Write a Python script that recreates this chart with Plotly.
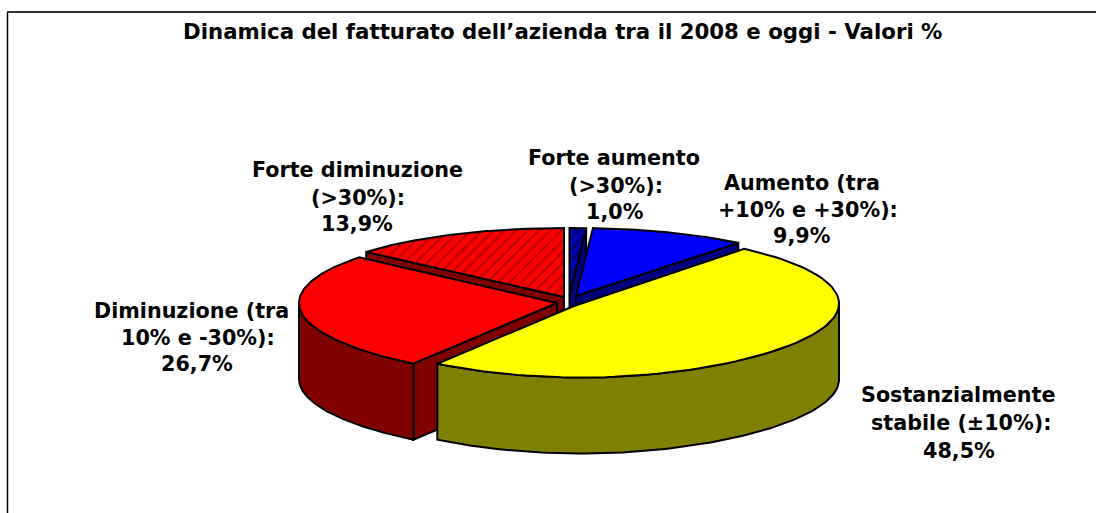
import numpy as np
import plotly.graph_objects as go

title = "Dinamica del fatturato dell’azienda tra il 2008 e oggi - Valori %"
categories = ["Forte aumento (>30%)", "Aumento (tra +10% e +30%)", "Sostanzialmente stabile (±10%)",
              "Diminuzione (tra 10% e -30%)", "Forte diminuzione (>30%)"]
values = [1.0, 9.9, 48.5, 26.7, 13.9]
value_labels = ["1,0%", "9,9%", "48,5%", "26,7%", "13,9%"]
label_lines = [["Forte aumento", "(>30%):"], ["Aumento (tra", "+10% e +30%):"],
               ["Sostanzialmente", "stabile (±10%):"], ["Diminuzione (tra", "10% e -30%):"],
               ["Forte diminuzione", "(>30%):"]]
top_colors = ["#0000FF", "#0000FF", "#FFFF00", "#FF0000", "#FF0000"]
wall_colors = ["#000080", "#000080", "#808000", "#800000", "#800000"]

# cx, cy, rx, ry, apex x, apex y for each exploded slice (pixel scale of the axes)
geom = [(569.5, 294, 265, 66, 569.5, 296), (577, 294, 255, 66, 576, 296),
        (581, 303.5, 258, 70.5, 574, 306), (557, 303, 258, 71, 557, 303),
        (564, 295, 258, 67, 564, 297)]
# centre of each of the three text lines of every label
label_x = [(614, 616, 614.5), (802, 808, 802), (958, 960.5, 958.5), (191.5, 197.5, 196.5), (357, 358, 356.5)]
label_y = [(158, 186, 212), (183, 210, 236), (395, 423, 451), (311, 338, 364), (170, 198, 224)]
DEPTH = 76
FRONT_BULGE = 3.5  # the nearer rim is drawn slightly larger

edges = np.cumsum([0] + values) * 3.6
fig = go.Figure()

def rim(i, a, b):
    cx, cy, rx, ry, _, _ = geom[i]
    t = np.radians(np.linspace(a, b, 90))
    front = np.clip(-np.cos(t), 0, 1)
    return cx + rx * np.sin(t), cy - ry * np.cos(t) + FRONT_BULGE * front ** 4

def poly(x, y, color, pattern=None):
    x = list(x) + [x[0]]
    y = list(y) + [y[0]]
    kw = dict(fillpattern=pattern) if pattern else {}
    fig.add_trace(go.Scatter(x=x, y=y, mode="lines", fill="toself", fillcolor=color,
                             line=dict(color="black", width=2), hoverinfo="skip", **kw))

def wall_edge(i, a):
    rx_, ry_ = rim(i, a, a)
    ax, ay = geom[i][4], geom[i][5]
    poly([ax, rx_[0], rx_[0], ax], [ay, ry_[0], ry_[0] + DEPTH, ay + DEPTH], wall_colors[i])

def wall_rim(i, a, b):
    x, y = rim(i, a, b)
    poly(np.r_[x, x[::-1]], np.r_[y, y[::-1] + DEPTH], wall_colors[i])

def top(i, pattern=None):
    x, y = rim(i, edges[i], edges[i + 1])
    poly(np.r_[geom[i][4], x], np.r_[geom[i][5], y], top_colors[i], pattern)

hatch_fd = dict(shape="/", fgcolor="#800000", bgcolor="#FF0000", size=8, solidity=0.3)
hatch_fa = dict(shape="/", fgcolor="#0000FF", bgcolor="#000080", size=8, solidity=0.4)

# back to front
wall_edge(4, edges[4]); top(4, hatch_fd)
wall_edge(0, edges[1]); top(0, hatch_fa)
wall_edge(1, edges[2]); top(1)
wall_edge(3, edges[3]); wall_rim(3, edges[3], 270); top(3)
wall_rim(2, 90, edges[3]); top(2)

annotations = [dict(x=562, y=31, text=f"<b>{title}</b>", showarrow=False, xref="x", yref="y",
                    font=dict(size=21.3, color="#000000", family="DejaVu Sans"))]
for lines, val, xs, ys in zip(label_lines, value_labels, label_x, label_y):
    for line, px, py in zip(lines + [val], xs, ys):
        annotations.append(dict(x=px, y=py, text=f"<b>{line}</b>", showarrow=False,
                                xref="x", yref="y", align="center",
                                font=dict(size=20.7, color="#000000", family="DejaVu Sans")))

fig.update_layout(
    width=1096, height=513, margin=dict(l=0, r=0, t=0, b=0), showlegend=False,
    paper_bgcolor="white", plot_bgcolor="white",
    xaxis=dict(range=[0, 1096], visible=False, fixedrange=True),
    yaxis=dict(range=[513, 0], visible=False, fixedrange=True),
    annotations=annotations,
    shapes=[dict(type="line", xref="x", yref="y", x0=7.5, y0=12, x1=7.5, y1=513,
                 line=dict(color="#000000", width=1.5)),
            dict(type="line", xref="x", yref="y", x0=7, y0=12, x1=1096, y1=12,
                 line=dict(color="#333333", width=2))],
)
fig.write_html("out.html", config={"displayModeBar": False},
               post_script="document.body.style.margin='0';document.body.style.overflow='hidden';")
